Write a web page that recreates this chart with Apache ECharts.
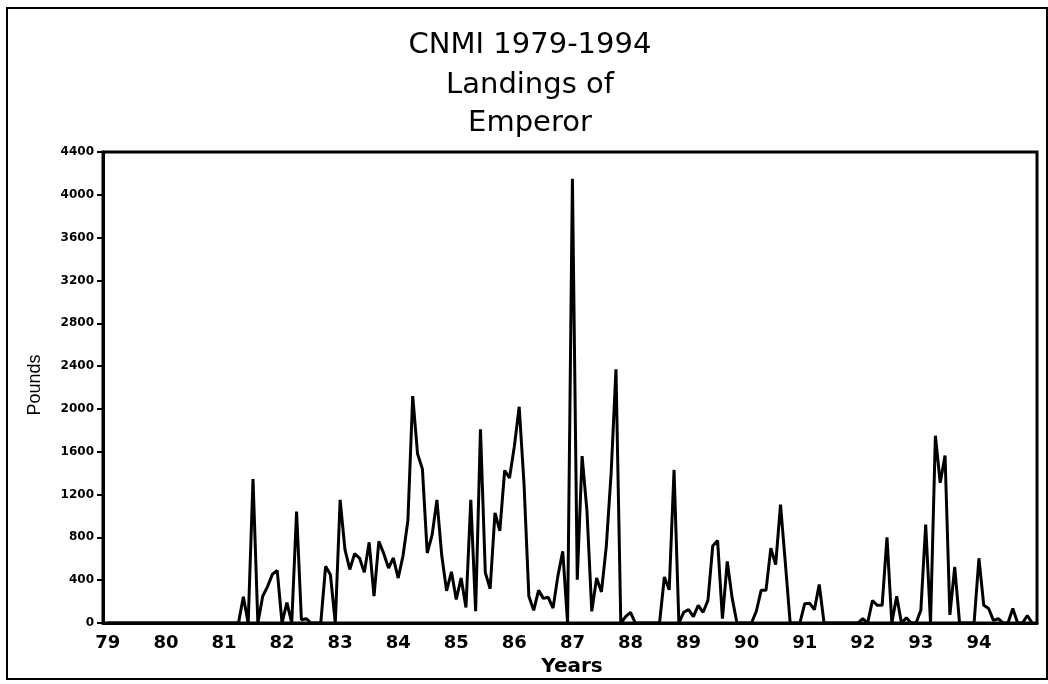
<!DOCTYPE html>
<html>
<head>
<meta charset="utf-8">
<script src="https://cdn.jsdelivr.net/npm/echarts@6/dist/echarts.min.js"></script>
<style>
  html, body { margin: 0; padding: 0; background: #fff; }
  #chart { width: 1048px; height: 684px; }
</style>
</head>
<body>
<div id="chart"></div>
<script>
// Year labels (one per year, placed at January)
const years = ['79','80','81','82','83','84','85','86','87','88','89','90','91','92','93','94'];

// Monthly landings of Emperor (pounds), Jan 1979 - Dec 1994, one row per year
const pounds1979 = [0,0,0,0,0,0,0,0,0,0,0,0];
const pounds1980 = [0,0,0,0,0,0,0,0,0,0,0,0];
const pounds1981 = [0,0,0,0,245,0,1345,0,250,340,455,490];
const pounds1982 = [0,190,0,1040,30,40,0,0,0,530,450,0];
const pounds1983 = [1150,685,500,648,607,473,754,250,763,650,514,607];
const pounds1984 = [420,630,955,2120,1580,1440,654,820,1150,630,300,478];
const pounds1985 = [220,420,145,1150,110,1810,470,320,1028,860,1425,1355];
const pounds1986 = [1650,2020,1300,249,118,305,230,240,140,440,670,0];
const pounds1987 = [4150,405,1560,1050,109,420,290,716,1400,2370,0,60];
const pounds1988 = [100,0,0,0,0,0,0,430,310,1430,0,100];
const pounds1989 = [125,60,165,100,210,720,770,40,575,235,0,0];
const pounds1990 = [0,0,110,305,305,700,545,1105,560,0,0,0];
const pounds1991 = [180,185,125,360,0,0,0,0,0,0,0,0];
const pounds1992 = [40,0,210,165,165,800,0,250,0,50,0,0];
const pounds1993 = [120,920,0,1750,1310,1565,75,525,0,0,0,0];
const pounds1994 = [605,165,135,25,40,0,0,135,0,0,70,0];

const pounds = [].concat(pounds1979, pounds1980, pounds1981, pounds1982, pounds1983,
  pounds1984, pounds1985, pounds1986, pounds1987, pounds1988, pounds1989, pounds1990,
  pounds1991, pounds1992, pounds1993, pounds1994);

// Y tick labels
const yTicks = [0,400,800,1200,1600,2000,2400,2800,3200,3600,4000,4400];

const titleLines = ['CNMI 1979-1994', 'Landings of', 'Emperor'];

const chart = echarts.init(document.getElementById('chart'), null, { renderer: 'canvas' });

const seriesData = pounds.map((v, k) => [k, v]);
const yearPositions = years.map((y, i) => i * 12);

const titleFont = '29px "DejaVu Sans"';

const option = {
  animation: false,
  backgroundColor: '#ffffff',
  grid: { left: 103, right: 11, top: 152, bottom: 61, show: true, borderColor: '#000', borderWidth: 3, backgroundColor: 'transparent' },
  graphic: [
    { type: 'rect', shape: { x: 7, y: 8, width: 1040, height: 671 }, style: { fill: 'none', stroke: '#000', lineWidth: 2 }, silent: true },
    { type: 'text', x: 530, y: 45, style: { text: titleLines[0], font: titleFont, fill: '#000', textAlign: 'center', textVerticalAlign: 'middle' } },
    { type: 'text', x: 530, y: 85, style: { text: titleLines[1], font: titleFont, fill: '#000', textAlign: 'center', textVerticalAlign: 'middle' } },
    { type: 'text', x: 530, y: 123, style: { text: titleLines[2], font: titleFont, fill: '#000', textAlign: 'center', textVerticalAlign: 'middle' } },
    { type: 'text', x: 35, y: 385, rotation: Math.PI / 2, style: { text: 'Pounds', font: '18px "Liberation Sans Narrow", "Liberation Sans", Arial', fill: '#000', textAlign: 'center', textVerticalAlign: 'middle' } },
    { type: 'text', x: 572, y: 667, style: { text: 'Years', font: 'bold 20px "DejaVu Sans"', fill: '#000', textAlign: 'center', textVerticalAlign: 'middle' } }
  ],
  xAxis: {
    type: 'value',
    min: -1,
    max: 192,
    axisLine: { show: true, onZero: false, lineStyle: { color: '#000', width: 3 } },
    axisTick: { show: false },
    splitLine: { show: false },
    axisLabel: {
      customValues: yearPositions,
      formatter: function (v) { return years[Math.round(v / 12)]; },
      color: '#000',
      fontFamily: 'DejaVu Sans',
      fontWeight: 'bold',
      fontSize: 18,
      margin: 11
    }
  },
  yAxis: {
    type: 'value',
    min: 0,
    max: 4400,
    interval: 400,
    axisLine: { show: true, onZero: false, lineStyle: { color: '#000', width: 3 } },
    axisTick: { show: true, inside: false, length: 6, lineStyle: { color: '#000', width: 2 } },
    splitLine: { show: false },
    axisLabel: {
      formatter: function (v) { return yTicks.indexOf(v) >= 0 ? String(v) : ''; },
      color: '#000',
      fontFamily: 'DejaVu Sans',
      fontWeight: 'bold',
      fontSize: 12,
      margin: 9
    }
  },
  series: [{
    type: 'line',
    data: seriesData,
    showSymbol: false,
    symbol: 'none',
    lineStyle: { color: '#000', width: 3 },
    itemStyle: { color: '#000' }
  }]
};

chart.setOption(option);
</script>
</body>
</html>
